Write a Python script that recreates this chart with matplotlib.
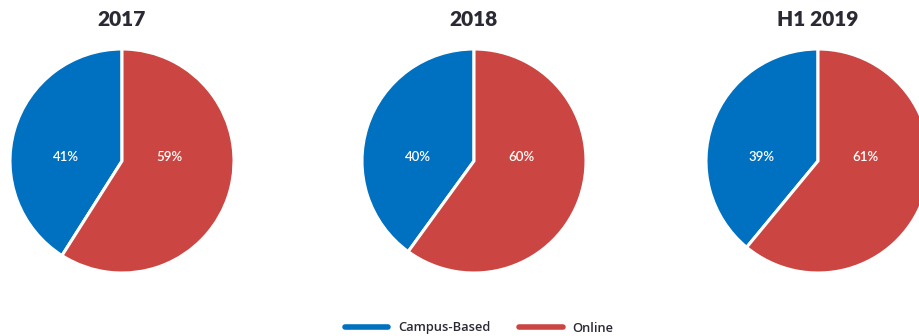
import matplotlib.pyplot as plt
from matplotlib.lines import Line2D

# Share of enrolments by delivery mode
periods = ['2017', '2018', 'H1 2019']
campus_based = [41, 40, 39]
online = [59, 60, 61]
series_names = ['Campus-Based', 'Online']
colors = ['#0070C0', '#CB4642']

W, H = 919, 336
centers_x = [122, 474, 818]
center_y = 161
radius = 112


def draw_pie(fig, cx, title, values):
    # axes sized in pixels so each pie lands at its spot
    rect = [(cx - radius) / W, (H - center_y - radius) / H,
            2 * radius / W, 2 * radius / H]
    ax = fig.add_axes(rect)
    ax.pie(values, colors=colors, startangle=90, counterclock=True,
           radius=1, wedgeprops=dict(edgecolor='white', linewidth=2.2))
    ax.set_xlim(-1, 1)
    ax.set_ylim(-1, 1)
    ax.set_aspect('equal')
    ax.axis('off')
    ax.text(-0.5, 0.035, f'{values[0]}%', color='white', fontsize=9.5,
            ha='center', va='center', family='Lato', fontweight='semibold')
    ax.text(0.42, 0.035, f'{values[1]}%', color='white', fontsize=9.5,
            ha='center', va='center', family='Lato', fontweight='semibold')
    fig.text(cx / W, 1 - 19 / H, title, ha='center', va='center',
             fontsize=15, fontweight='heavy', color='#2A2A35', family='Lato')


def main():
    fig = plt.figure(figsize=(W / 100, H / 100), dpi=100)
    for cx, title, c, o in zip(centers_x, periods, campus_based, online):
        draw_pie(fig, cx, title, [c, o])

    handles = [Line2D([0], [0], color=col, lw=4, solid_capstyle='round')
               for col in colors]
    fig.legend(handles, series_names, loc='center', ncol=2,
               bbox_to_anchor=(479 / W, 1 - 328 / H), frameon=False,
               handlelength=3.4, columnspacing=2.2, handletextpad=0.75,
               prop=dict(family='Open Sans', size=9.3, weight='semibold'),
               labelcolor='#2A2A35')

    fig.savefig('out.png', dpi=100)


if __name__ == "__main__":
    main()
